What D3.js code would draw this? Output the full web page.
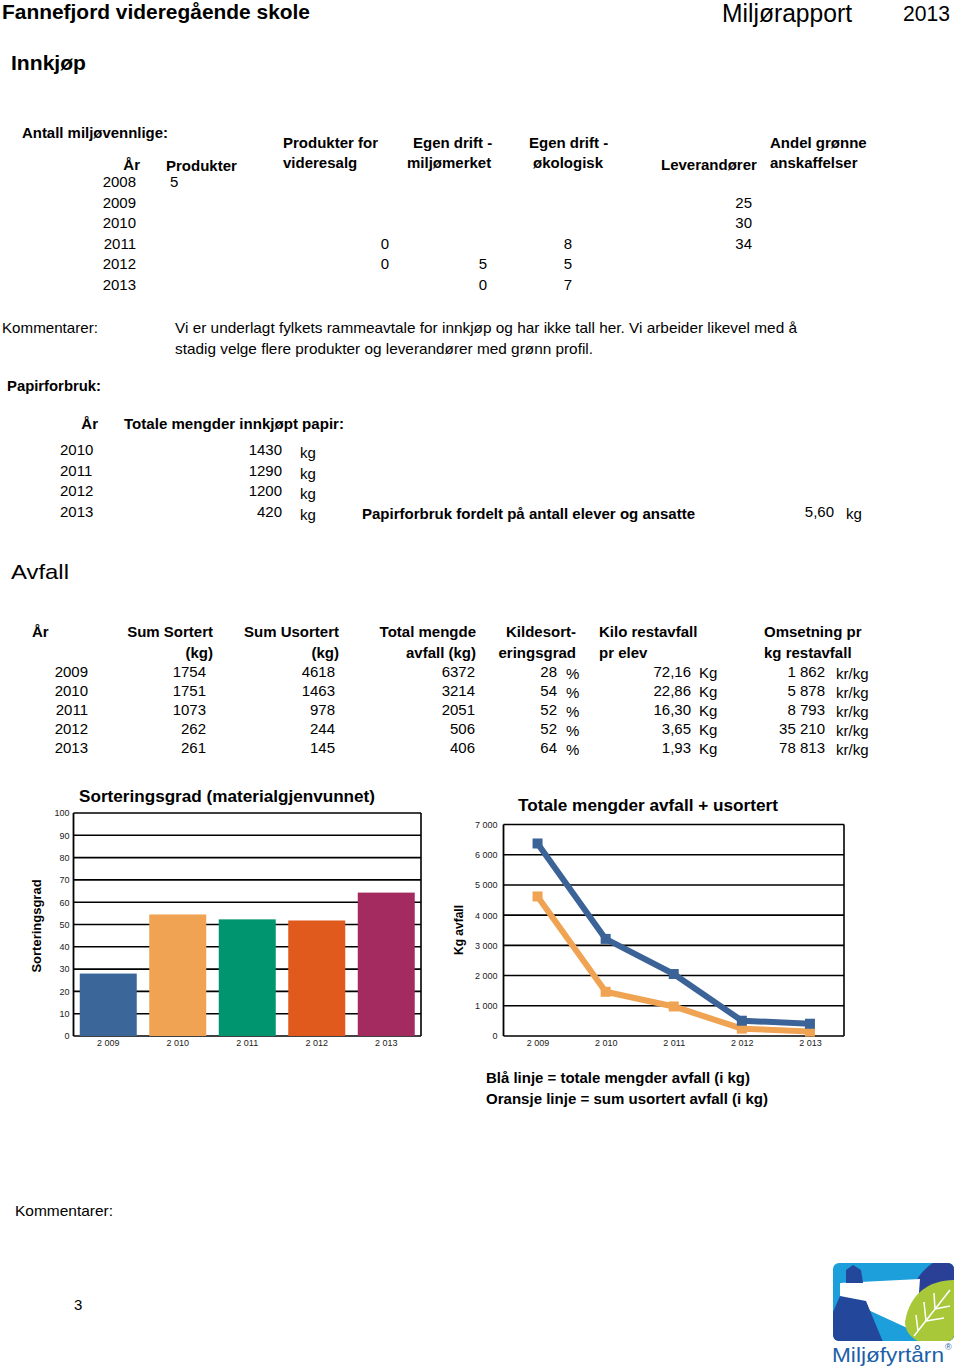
<!DOCTYPE html>
<html><head><meta charset="utf-8">
<script src="https://cdnjs.cloudflare.com/ajax/libs/d3/7.8.5/d3.min.js"></script>
<style>html,body{margin:0;padding:0;background:#fff}svg{display:block}</style>
</head><body>
<svg id="page" width="960" height="1371"></svg>
<script>
// ---------- DATA ----------
const innkjopYears = ["2008","2009","2010","2011","2012","2013"];
const produkter = [5, null, null, null, null, null];
const produkterVideresalg = [null, null, null, 0, 0, null];
const egenDriftMiljomerket = [null, null, null, null, 5, 0];
const egenDriftOkologisk = [null, null, null, 8, 5, 7];
const leverandorer = [null, 25, 30, 34, null, null];

const papirYears = ["2010","2011","2012","2013"];
const papirKg = [1430, 1290, 1200, 420];
const papirPerPerson = "5,60";

const avfallYears = ["2009","2010","2011","2012","2013"];
const sumSortert = [1754, 1751, 1073, 262, 261];
const sumUsortert = [4618, 1463, 978, 244, 145];
const totalMengde = [6372, 3214, 2051, 506, 406];
const kildesorteringsgrad = [28, 54, 52, 52, 64];
const kiloRestavfallPrElev = ["72,16", "22,86", "16,30", "3,65", "1,93"];
const omsetningPrKg = ["1 862", "5 878", "8 793", "35 210", "78 813"];

const chartYears = [2009, 2010, 2011, 2012, 2013];
const sorteringsgrad = [28, 54.5, 52.3, 51.8, 64.3];
const barColors = ["#3a6699", "#f0a352", "#00956e", "#e05a1e", "#a32b60"];
const barTicks = [0,10,20,30,40,50,60,70,80,90,100];
const lineTicks = [0,1000,2000,3000,4000,5000,6000,7000];

// ---------- HELPERS ----------
const svg = d3.select("#page");
const FONT = "'Liberation Sans', Arial, Helvetica, sans-serif";
svg.append("rect").attr("width",960).attr("height",1371).attr("fill","#fff");
function txt(x, y, s, o = {}) {
  const t = svg.append("text").attr("x", x).attr("y", y).text(s)
    .attr("font-family", FONT)
    .attr("font-size", o.size || 15)
    .attr("font-weight", o.bold ? "bold" : "normal")
    .attr("text-anchor", o.anchor || "start")
    .attr("fill", o.fill || "#000");
  if (o.width) t.attr("textLength", o.width).attr("lengthAdjust", "spacingAndGlyphs");
  return t;
}
const loc = d3.formatLocale({decimal: ",", thousands: " ", grouping: [3], currency: ["", ""]});
const fmtK = loc.format(",d");

// ---------- HEADER ----------
txt(2, 19, "Fannefjord videregående skole", {size: 21, bold: true, width: 308});
txt(722, 22, "Miljørapport", {size: 25, width: 130});
txt(903, 21, "2013", {size: 22, width: 47});
txt(11, 70, "Innkjøp", {size: 20, bold: true, width: 75});

// ---------- INNKJØP TABLE ----------
txt(22, 138, "Antall miljøvennlige:", {bold: true, width: 146});
txt(283, 148, "Produkter for", {bold: true});
txt(413, 148, "Egen drift -", {bold: true});
txt(529, 148, "Egen drift -", {bold: true});
txt(770, 148, "Andel grønne", {bold: true});
txt(140, 170, "År", {bold: true, anchor: "end"});
txt(166, 171, "Produkter", {bold: true});
txt(283, 168, "videresalg", {bold: true});
txt(407, 168, "miljømerket", {bold: true});
txt(533, 168, "økologisk", {bold: true});
txt(661, 170, "Leverandører", {bold: true});
txt(770, 168, "anskaffelser", {bold: true});
const rowY = d3.scalePoint().domain(innkjopYears).range([187, 290]);
innkjopYears.forEach((yr, i) => {
  const y = rowY(yr);
  txt(136, y, yr, {anchor: "end"});
  if (produkter[i] != null) txt(170, y, produkter[i]);
  if (produkterVideresalg[i] != null) txt(389, y, produkterVideresalg[i], {anchor: "end"});
  if (egenDriftMiljomerket[i] != null) txt(487, y, egenDriftMiljomerket[i], {anchor: "end"});
  if (egenDriftOkologisk[i] != null) txt(572, y, egenDriftOkologisk[i], {anchor: "end"});
  if (leverandorer[i] != null) txt(752, y, leverandorer[i], {anchor: "end"});
});

txt(2, 333, "Kommentarer:", {width: 96});
txt(175, 333, "Vi er underlagt fylkets rammeavtale for innkjøp og har ikke tall her. Vi arbeider likevel med å", {width: 622});
txt(175, 354, "stadig velge flere produkter og leverandører med grønn profil.", {width: 418});

// ---------- PAPIR ----------
txt(7, 391, "Papirforbruk:", {bold: true, width: 94});
txt(98, 429, "År", {bold: true, anchor: "end"});
txt(124, 429, "Totale mengder innkjøpt papir:", {bold: true, width: 220});
const papY = d3.scalePoint().domain(papirYears).range([455, 517]);
papirYears.forEach((yr, i) => {
  const y = papY(yr);
  txt(60, y, yr);
  txt(282, y, papirKg[i], {anchor: "end"});
  txt(300, y + 3, "kg");
});
txt(362, 519, "Papirforbruk fordelt på antall elever og ansatte", {bold: true, width: 333});
txt(834, 517, papirPerPerson, {anchor: "end"});
txt(846, 519, "kg");

// ---------- AVFALL TABLE ----------
txt(11, 579, "Avfall", {size: 21, width: 58});
txt(32, 637, "År", {bold: true});
txt(213, 637, "Sum Sortert", {bold: true, anchor: "end"});
txt(213, 658, "(kg)", {bold: true, anchor: "end"});
txt(339, 637, "Sum Usortert", {bold: true, anchor: "end"});
txt(339, 658, "(kg)", {bold: true, anchor: "end"});
txt(476, 637, "Total mengde", {bold: true, anchor: "end"});
txt(476, 658, "avfall (kg)", {bold: true, anchor: "end"});
txt(576, 637, "Kildesort-", {bold: true, anchor: "end"});
txt(576, 658, "eringsgrad", {bold: true, anchor: "end"});
txt(599, 637, "Kilo restavfall", {bold: true});
txt(599, 658, "pr elev", {bold: true});
txt(764, 637, "Omsetning pr", {bold: true});
txt(764, 658, "kg restavfall", {bold: true});
const avY = d3.scalePoint().domain(avfallYears).range([677, 753]);
avfallYears.forEach((yr, i) => {
  const y = avY(yr);
  txt(88, y, yr, {anchor: "end"});
  txt(206, y, sumSortert[i], {anchor: "end"});
  txt(335, y, sumUsortert[i], {anchor: "end"});
  txt(475, y, totalMengde[i], {anchor: "end"});
  txt(557, y, kildesorteringsgrad[i], {anchor: "end"});
  txt(566, y + 2, "%");
  txt(691, y, kiloRestavfallPrElev[i], {anchor: "end"});
  txt(699, y + 1, "Kg");
  txt(825, y, omsetningPrKg[i], {anchor: "end"});
  txt(836, y + 2, "kr/kg");
});

// ---------- BAR CHART ----------
{
  const L = 73.5, R = 421, T = 813, B = 1036;
  const x = d3.scaleBand().domain(chartYears).range([L, R]).paddingInner(0.18).paddingOuter(0.09);
  const y = d3.scaleLinear().domain([0, 100]).range([B, T]);
  const g = svg.append("g");
  g.selectAll("line.grid").data(barTicks).join("line")
    .attr("x1", L).attr("x2", R).attr("y1", d => y(d)).attr("y2", d => y(d))
    .attr("stroke", "#000").attr("stroke-width", 1.6);
  g.selectAll("rect.bar").data(chartYears).join("rect")
    .attr("x", d => x(d)).attr("width", x.bandwidth())
    .attr("y", (d, i) => y(sorteringsgrad[i])).attr("height", (d, i) => B - y(sorteringsgrad[i]))
    .attr("fill", (d, i) => barColors[i]);
  g.append("line").attr("x1", L).attr("x2", L).attr("y1", T).attr("y2", B).attr("stroke", "#000").attr("stroke-width", 1.8);
  g.append("line").attr("x1", R).attr("x2", R).attr("y1", T).attr("y2", B).attr("stroke", "#000").attr("stroke-width", 1.6);
  const ya = d3.axisLeft(y).tickValues(barTicks).tickSize(0).tickPadding(4);
  const yg = g.append("g").attr("transform", `translate(${L},0)`).call(ya);
  yg.select(".domain").remove();
  yg.selectAll("text").attr("font-family", FONT).attr("font-size", 9).attr("fill", "#222");
  const xa = d3.axisBottom(x).tickSize(0).tickPadding(4).tickFormat(d => fmtK(d));
  const xg = g.append("g").attr("transform", `translate(0,${B})`).call(xa);
  xg.select(".domain").remove();
  xg.selectAll("text").attr("font-family", FONT).attr("font-size", 9).attr("fill", "#222");
  txt(79, 802, "Sorteringsgrad (materialgjenvunnet)", {size: 17, bold: true, width: 296});
  svg.append("text").attr("transform", "translate(41,926) rotate(-90)")
    .attr("text-anchor", "middle").attr("font-family", FONT).attr("font-size", 13)
    .attr("font-weight", "bold").text("Sorteringsgrad");
}

// ---------- LINE CHART ----------
{
  const L = 503.5, R = 844, T = 824.5, B = 1036;
  const x = d3.scalePoint().domain(chartYears).range([L, R]).padding(0.5);
  const y = d3.scaleLinear().domain([0, 7000]).range([B, T]);
  const g = svg.append("g");
  g.selectAll("line.grid").data(lineTicks).join("line")
    .attr("x1", L).attr("x2", R).attr("y1", d => y(d)).attr("y2", d => y(d))
    .attr("stroke", "#000").attr("stroke-width", 1.6);
  g.append("line").attr("x1", L).attr("x2", L).attr("y1", T).attr("y2", B).attr("stroke", "#000").attr("stroke-width", 1.8);
  g.append("line").attr("x1", R).attr("x2", R).attr("y1", T).attr("y2", B).attr("stroke", "#000").attr("stroke-width", 1.6);
  const ya = d3.axisLeft(y).tickValues(lineTicks).tickSize(0).tickPadding(6).tickFormat(d => fmtK(d));
  const yg = g.append("g").attr("transform", `translate(${L},0)`).call(ya);
  yg.select(".domain").remove();
  yg.selectAll("text").attr("font-family", FONT).attr("font-size", 9).attr("fill", "#222");
  const xa = d3.axisBottom(x).tickSize(0).tickPadding(4).tickFormat(d => fmtK(d));
  const xg = g.append("g").attr("transform", `translate(0,${B})`).call(xa);
  xg.select(".domain").remove();
  xg.selectAll("text").attr("font-family", FONT).attr("font-size", 9).attr("fill", "#222");
  const line = d3.line().x((d, i) => x(chartYears[i])).y(d => y(d));
  const series = [{vals: sumUsortert, color: "#f0a352"}, {vals: totalMengde, color: "#3b6397"}];
  series.forEach(s => {
    g.append("path").attr("d", line(s.vals)).attr("fill", "none")
      .attr("stroke", s.color).attr("stroke-width", 6).attr("stroke-linejoin", "round");
    g.selectAll(null).data(s.vals).join("rect")
      .attr("x", (d, i) => x(chartYears[i]) - 5).attr("y", d => y(d) - 5)
      .attr("width", 10).attr("height", 10).attr("fill", s.color);
  });
  txt(518, 811, "Totale mengder avfall + usortert", {size: 16, bold: true, width: 260});
  svg.append("text").attr("transform", "translate(463,930) rotate(-90)")
    .attr("text-anchor", "middle").attr("font-family", FONT).attr("font-size", 12)
    .attr("font-weight", "bold").text("Kg avfall");
}

txt(486, 1083, "Blå linje = totale mengder avfall (i kg)", {bold: true, width: 264});
txt(486, 1104, "Oransje linje = sum usortert avfall (i kg)", {bold: true, width: 282});
txt(15, 1216, "Kommentarer:", {width: 98});
txt(74, 1310, "3", {size: 15});

// ---------- LOGO ----------
{
  const lg = svg.append("g");
  const defs = svg.append("defs");
  defs.append("clipPath").attr("id", "logoClip").append("rect")
    .attr("x", 833).attr("y", 1263).attr("width", 121).attr("height", 78).attr("rx", 6);
  const c = lg.append("g").attr("clip-path", "url(#logoClip)");
  c.append("rect").attr("x", 833).attr("y", 1263).attr("width", 121).attr("height", 78).attr("fill", "#1d9fdb");
  c.append("circle").attr("cx", 960).attr("cy", 1305).attr("r", 50).attr("fill", "#2a3f96");
  c.append("path").attr("d", "M840,1283 L920,1279 L916,1332 L840,1297 Z").attr("fill", "#fff");
  c.append("path").attr("d", "M905,1322 C910,1292 930,1280 956,1280 L956,1342 L920,1342 C910,1338 905,1330 905,1322 Z").attr("fill", "#a8c83a");
  c.append("path").attr("d", "M914,1336 L950,1290 M926,1321 L924,1302 M935,1309 L934,1293 M926,1321 L944,1318 M935,1309 L950,1306 M918,1331 L916,1315")
    .attr("stroke", "#fff").attr("stroke-width", 1.5).attr("fill", "none");
  c.append("path").attr("d", "M846,1283 L846,1270 L853,1265 L861,1270 L863,1283 Z").attr("fill", "#23479b");
  c.append("path").attr("d", "M840,1296 L866,1301 L883,1342 L833,1342 L833,1312 Z").attr("fill", "#23479b");
  svg.append("text").attr("x", 832).attr("y", 1362).attr("font-family", FONT)
    .attr("font-size", 21).attr("fill", "#1c5fa8").attr("textLength", 112)
    .attr("lengthAdjust", "spacingAndGlyphs").text("Miljøfyrtårn");
  svg.append("text").attr("x", 945).attr("y", 1350).attr("font-family", FONT)
    .attr("font-size", 9).attr("fill", "#1c5fa8").text("®");
}
</script>
</body></html>
